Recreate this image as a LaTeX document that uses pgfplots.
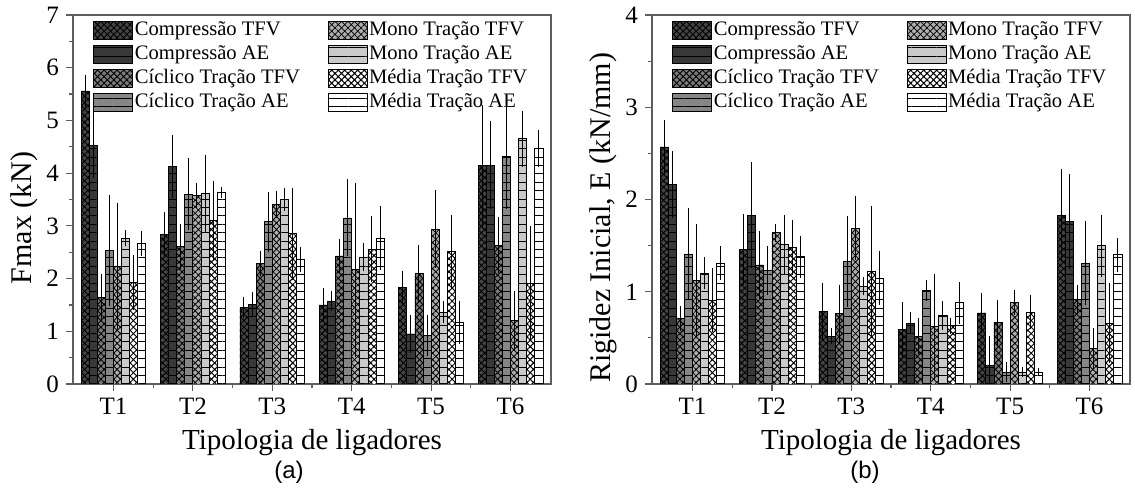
\documentclass[border=0pt]{standalone}
\usepackage{pgfplots}
\pgfplotsset{compat=1.18}
\usepackage{pgfplotstable}
\usetikzlibrary{patterns.meta}
\usepackage{fontspec}
\setmainfont{Liberation Serif}
\newfontfamily\arialfont{Liberation Sans}

\definecolor{f1}{HTML}{444444}
\definecolor{f2}{HTML}{383838}
\definecolor{f3}{HTML}{7A7A7A}
\definecolor{f4}{HTML}{868686}
\definecolor{f5}{HTML}{ADADAD}
\definecolor{f6}{HTML}{CACACA}
\definecolor{f7}{HTML}{FFFFFF}
\definecolor{f8}{HTML}{FFFFFF}
\definecolor{framec}{HTML}{5E5E5E}

% Fmax (kN): value and error for each of the 8 series, groups T1..T6
\pgfplotstableread{
g  c1   e1   c2   e2   c3   e3   c4   e4   c5   e5   c6   e6   c7   e7   c8   e8
1  5.56 0.23 4.53 0.55 1.65 0.35 2.53 0.98 2.24 1.12 2.77 0.08 1.93 0.44 2.66 0.16
2  2.83 0.35 4.12 0.52 2.61 0.35 3.60 0.60 3.58 0.16 3.62 0.65 3.10 0.68 3.63 0.02
3  1.46 0.12 1.51 0.15 2.29 0.16 3.08 0.49 3.41 0.18 3.50 0.14 2.85 0.79 2.36 0.16
4  1.50 0.24 1.57 0.11 2.43 0.24 3.15 0.65 2.17 1.57 2.41 0.19 2.56 0.54 2.77 0.52
5  1.84 0.23 0.95 0.28 2.09 0.47 0.92 0.31 2.94 0.66 1.36 0.13 2.52 0.61 1.17 0.33
6  4.15 1.07 4.15 0.76 2.63 0.45 4.31 0.91 1.20 0.48 4.65 0.45 1.90 1.01 4.46 0.27
}\fmaxtable

% Rigidez inicial (kN/mm)
\pgfplotstableread{
g  c1   e1   c2   e2   c3   e3   c4   e4   c5   e5   c6   e6   c7   e7   c8   e8
1  2.57 0.25 2.16 0.32 0.71 0.09 1.41 0.45 1.12 0.57 1.20 0.13 0.91 0.30 1.31 0.14
2  1.46 0.34 1.83 0.53 1.29 0.32 1.23 0.22 1.64 0.05 1.51 0.28 1.48 0.25 1.38 0.18
3  0.79 0.26 0.52 0.04 0.76 0.27 1.33 0.45 1.69 0.30 1.06 0.05 1.22 0.66 1.15 0.25
4  0.59 0.25 0.66 0.07 0.52 0.15 1.01 0.07 0.62 0.53 0.74 0.11 0.63 0.04 0.88 0.18
5  0.77 0.17 0.20 0.27 0.67 0.20 0.13 0.06 0.88 0.09 0.13 0.01 0.78 0.14 0.13 0.00
6  1.83 0.46 1.76 0.47 0.92 0.11 1.31 0.41 0.39 0.17 1.50 0.29 0.66 0.39 1.40 0.14
}\rigtable

\tikzset{
  hatchp/.style={postaction={pattern={Hatch[angle=45,distance=2.3bp,line width=#1]},pattern color=black}},
  linesp/.style={postaction={pattern={Lines[angle=0,distance=4.2bp,line width=0.45bp]},pattern color=black}},
}
\pgfplotsset{
  b1/.style={draw=black, line width=0.4bp, fill=f1, hatchp=0.45bp},
  b2/.style={draw=black, line width=0.4bp, fill=f2, linesp},
  b3/.style={draw=black, line width=0.4bp, fill=f3, hatchp=0.45bp},
  b4/.style={draw=black, line width=0.4bp, fill=f4, linesp},
  b5/.style={draw=black, line width=0.4bp, fill=f5, hatchp=0.4bp},
  b6/.style={draw=black, line width=0.4bp, fill=f6, linesp},
  b7/.style={draw=black, line width=0.4bp, fill=f7, hatchp=0.5bp},
  b8/.style={draw=black, line width=0.4bp, fill=f8, linesp},
  eb/.style={error bars/.cd, y dir=both, y explicit,
    error bar style={line width=0.5bp, black},
    error mark options={black, line width=0.5bp, mark size=2.1bp}},
  panel/.style={
    scale only axis, width=239bp, height=184.5bp,
    ybar, bar width=0.102,
    xmin=0.49, xmax=6.51,
    xtick={1,2,3,4,5,6}, xticklabels={T1,T2,T3,T4,T5,T6},
    minor xtick={1.5,2.5,3.5,4.5,5.5},
    ymin=0,
    minor y tick num=1,
    tick align=outside, xtick pos=left, ytick pos=left,
    major tick length=3.5bp, minor tick length=2bp,
    tick style={framec, line width=0.6bp},
    axis line style={framec, line width=0.8bp},
    ticklabel style={font=\fontsize{12.5bp}{14.5bp}\selectfont},
    /pgf/number format/assume math mode=true,
    xlabel={Tipologia de ligadores},
    xlabel style={font=\fontsize{14.5bp}{17bp}\selectfont,
      at={(axis description cs:0.5,-0.16)}, anchor=center},
    ylabel style={font=\fontsize{15bp}{17.5bp}\selectfont,
      at={(axis description cs:-0.102,0.45)}, anchor=center},
    legend image code/.code={\draw[##1] (0bp,-4.5bp) rectangle (19.5bp,4.5bp);},
    legend style={at={(axis description cs:0.042,0.991)}, anchor=north west,
      draw=none, fill=none, font=\fontsize{10.3bp}{12bp}\selectfont,
      inner sep=0pt, row sep=0.4bp,
      nodes={inner sep=0.8bp, text height=7.6bp, text depth=2.4bp},
      /tikz/column 2/.style={column sep=13bp}},
    legend cell align=left,
    legend columns=2,
  },
}

\begin{document}
\begin{tikzpicture}
\path[use as bounding box] (0,0) rectangle (567.5bp,246.5bp);

% ---------- (a) ----------
\begin{axis}[panel, at={(36.5bp,54.5bp)}, anchor=south west,
  ymax=7, ytick={0,1,2,3,4,5,6,7}, ylabel={Fmax (kN)}]
\addlegendimage{b1}\addlegendentry{Compressão TFV}
\addlegendimage{b5}\addlegendentry{Mono Tração TFV}
\addlegendimage{b2}\addlegendentry{Compressão AE}
\addlegendimage{b6}\addlegendentry{Mono Tração AE}
\addlegendimage{b3}\addlegendentry{Cíclico Tração TFV}
\addlegendimage{b7}\addlegendentry{Média Tração TFV}
\addlegendimage{b4}\addlegendentry{Cíclico Tração AE}
\addlegendimage{b8}\addlegendentry{Média Tração AE}
\addplot[b1, forget plot, bar shift=-0.357, eb] table[x=g, y=c1, y error=e1] {\fmaxtable};
\addplot[b2, forget plot, bar shift=-0.255, eb] table[x=g, y=c2, y error=e2] {\fmaxtable};
\addplot[b3, forget plot, bar shift=-0.153, eb] table[x=g, y=c3, y error=e3] {\fmaxtable};
\addplot[b4, forget plot, bar shift=-0.051, eb] table[x=g, y=c4, y error=e4] {\fmaxtable};
\addplot[b5, forget plot, bar shift=0.051, eb] table[x=g, y=c5, y error=e5] {\fmaxtable};
\addplot[b6, forget plot, bar shift=0.153, eb] table[x=g, y=c6, y error=e6] {\fmaxtable};
\addplot[b7, forget plot, bar shift=0.255, eb] table[x=g, y=c7, y error=e7] {\fmaxtable};
\addplot[b8, forget plot, bar shift=0.357, eb] table[x=g, y=c8, y error=e8] {\fmaxtable};
\end{axis}

% ---------- (b) ----------
\begin{axis}[panel, at={(326bp,54.5bp)}, anchor=south west,
  ymax=4, ytick={0,1,2,3,4}, ylabel={Rigidez Inicial, E (kN/mm)}]
\addlegendimage{b1}\addlegendentry{Compressão TFV}
\addlegendimage{b5}\addlegendentry{Mono Tração TFV}
\addlegendimage{b2}\addlegendentry{Compressão AE}
\addlegendimage{b6}\addlegendentry{Mono Tração AE}
\addlegendimage{b3}\addlegendentry{Cíclico Tração TFV}
\addlegendimage{b7}\addlegendentry{Média Tração TFV}
\addlegendimage{b4}\addlegendentry{Cíclico Tração AE}
\addlegendimage{b8}\addlegendentry{Média Tração AE}
\addplot[b1, forget plot, bar shift=-0.357, eb] table[x=g, y=c1, y error=e1] {\rigtable};
\addplot[b2, forget plot, bar shift=-0.255, eb] table[x=g, y=c2, y error=e2] {\rigtable};
\addplot[b3, forget plot, bar shift=-0.153, eb] table[x=g, y=c3, y error=e3] {\rigtable};
\addplot[b4, forget plot, bar shift=-0.051, eb] table[x=g, y=c4, y error=e4] {\rigtable};
\addplot[b5, forget plot, bar shift=0.051, eb] table[x=g, y=c5, y error=e5] {\rigtable};
\addplot[b6, forget plot, bar shift=0.153, eb] table[x=g, y=c6, y error=e6] {\rigtable};
\addplot[b7, forget plot, bar shift=0.255, eb] table[x=g, y=c7, y error=e7] {\rigtable};
\addplot[b8, forget plot, bar shift=0.357, eb] table[x=g, y=c8, y error=e8] {\rigtable};
\end{axis}

\node[font=\arialfont\fontsize{12bp}{14bp}\selectfont] at (144.5bp,10.5bp) {(a)};
\node[font=\arialfont\fontsize{12bp}{14bp}\selectfont] at (432.5bp,10.5bp) {(b)};
\end{tikzpicture}
\end{document}
